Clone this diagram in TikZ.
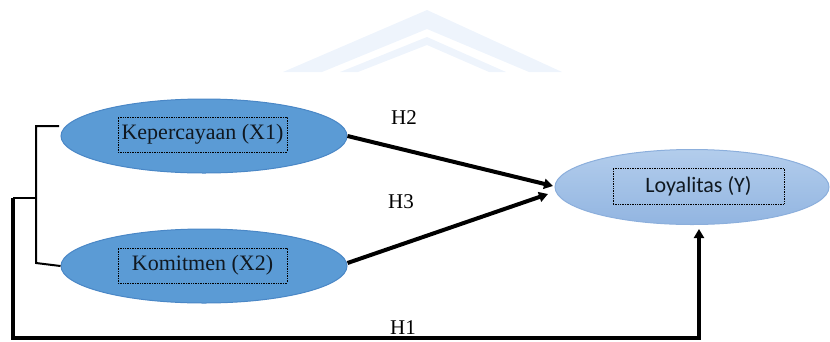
\documentclass[tikz,border=0pt]{standalone}
\usepackage{fontspec}
\setmainfont{Liberation Serif}
\newfontfamily\timesfont{Liberation Serif}
\newfontfamily\calibrifont{Carlito}
\usetikzlibrary{shapes.geometric,arrows.meta}
\definecolor{darkfill}{HTML}{5B9BD5}
\definecolor{darkrim}{HTML}{4A87C6}
\definecolor{lighttop}{HTML}{B3CDEC}
\definecolor{lightbot}{HTML}{92B5E1}
\definecolor{lightrim}{HTML}{8CAFDC}
\definecolor{markcol}{HTML}{EEF4FC}
\definecolor{inktext}{HTML}{101820}
\tikzset{
  varbig/.style={ellipse, fill=darkfill, draw=darkrim, line width=1pt, inner sep=0pt,
                 minimum width=286pt, minimum height=74pt},
  varlight/.style={ellipse, top color=lighttop, bottom color=lightbot, draw=lightrim,
                 line width=1pt, inner sep=0pt, minimum width=274pt, minimum height=75pt},
  labelbox/.style={draw=black, densely dotted, line width=0.7pt, inner sep=0pt,
                 minimum width=169pt, minimum height=35pt, text=inktext,
                 font=\timesfont\fontsize{22pt}{26pt}\selectfont},
  hyp/.style={font=\timesfont\fontsize{21pt}{25pt}\selectfont},
  path1/.style={line width=4pt, -{Triangle[length=9pt,width=10pt]}},
  brace/.style={line width=2pt},
  loop/.style={line width=3.5pt, -{Triangle[length=9pt,width=10pt]}}
}
\begin{document}
\begin{tikzpicture}[x=1pt,y=-1pt]
\useasboundingbox (0,0) rectangle (830,341);
% faint logo in the page header
\fill[markcol] (283,72) -- (427,10) -- (562,72) -- (529,72) -- (427,29) -- (322,72) -- cycle;
\fill[markcol] (340,72) -- (427,37) -- (506,72) -- (489,72) -- (427,45) -- (358,72) -- cycle;

% variables
\node[varbig] (x1) at (204,136) {};
\node[varbig] (x2) at (204,266) {};
\node[varlight] (y) at (692,187) {};
\node[labelbox] (x1t) at (202.5,134.5) {Kepercayaan (X1)};
\node[labelbox] (x2t) at (202.5,265.5) {Komitmen (X2)};
\node[labelbox, minimum width=171pt, minimum height=36pt,
      font=\calibrifont\fontsize{22pt}{26pt}\selectfont] (yt) at (698.5,186) {Loyalitas (Y)};

% hypothesis labels
\node[hyp] (h2) at (404,118) {H2};
\node[hyp] (h3) at (401,202) {H3};
\node[hyp] (h1) at (403,328) {H1};

% paths to Y
\coordinate (t2) at (553,186);
\coordinate (t3) at (548,194);
\draw[path1] (x1.east) -- (t2);
\draw[path1] ([yshift=3pt]x2.east) -- (t3);

% bracket joining X1 and X2
\coordinate (b1) at (36,126);
\coordinate (b2) at (36,263);
\coordinate (b3) at (36,198);
\coordinate (c1) at (13,198);
\coordinate (c2) at (13,338);
\coordinate (ya) at (699,229);
\draw[brace] (59,126) -- (b1) -- (b2) -- (x2.west);
\draw[brace] (b3) -- (c1);

% joint path to Y
\draw[loop] (c1) -- (c2) -- (c2 -| ya) -- (ya);
\end{tikzpicture}
\end{document}
